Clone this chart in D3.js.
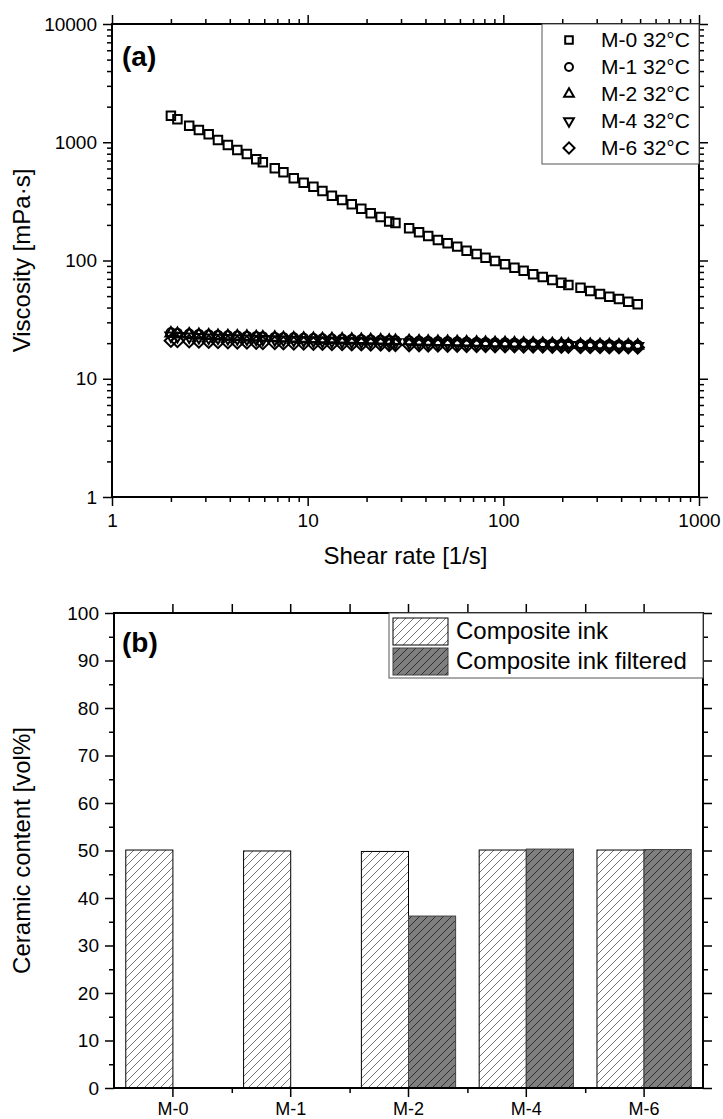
<!DOCTYPE html>
<html>
<head>
<meta charset="utf-8">
<script src="https://cdn.jsdelivr.net/npm/d3@7"></script>
<style>
  body { margin: 0; background: #fff; }
  svg { display: block; font-family: Arial, "Liberation Sans", sans-serif; }
</style>
</head>
<body>
<svg id="chart" width="723" height="1119"></svg>
<script>
// ---- (a) viscosity vs shear rate at 32 °C ----
const shearRate = [2.0, 2.16, 2.48, 2.78, 3.12, 3.48, 3.91, 4.37, 4.89, 5.46,
  5.9, 6.79, 7.52, 8.49, 9.54, 10.7, 11.9, 13.3, 15.0, 16.8,
  18.8, 21.0, 23.6, 26.1, 28.1, 33.0, 37.1, 41.3, 46.3, 51.9,
  58.1, 64.9, 73.0, 81.1, 90.7, 102, 114, 127, 142, 159,
  178, 198, 215, 248, 278, 312, 348, 390, 435, 486];

const viscM0 = [1677, 1564, 1380, 1270, 1167, 1045, 948, 860, 795, 717,
  677, 602, 557, 496, 455, 421, 387, 353, 325, 299,
  274, 251, 233, 214, 208, 187, 173, 161, 149, 140,
  131, 121, 113.5, 105.6, 99.0, 92.9, 86.9, 82.0, 76.4, 72.5,
  68.4, 64.9, 62.1, 58.9, 55.2, 52.1, 49.4, 47.3, 44.8, 42.6];

const viscM1 = [24.6, 24.3, 24.0, 23.8, 23.6, 23.4, 23.2, 23.1, 22.9, 22.8,
  22.7, 22.5, 22.4, 22.3, 22.1, 22.0, 21.9, 21.8, 21.7, 21.6,
  21.5, 21.4, 21.3, 21.2, 21.1, 21.0, 20.9, 20.8, 20.7, 20.7,
  20.6, 20.5, 20.4, 20.3, 20.2, 20.2, 20.1, 20.0, 19.9, 19.9,
  19.8, 19.7, 19.7, 19.6, 19.6, 19.5, 19.5, 19.4, 19.4, 19.3];

const viscM2 = [24.2, 24.0, 23.7, 23.5, 23.3, 23.1, 23.0, 22.8, 22.7, 22.5,
  22.4, 22.3, 22.1, 22.0, 21.9, 21.8, 21.7, 21.6, 21.5, 21.4,
  21.3, 21.2, 21.1, 21.0, 20.9, 20.8, 20.7, 20.6, 20.5, 20.5,
  20.4, 20.3, 20.2, 20.1, 20.0, 20.0, 19.9, 19.8, 19.8, 19.7,
  19.6, 19.6, 19.5, 19.4, 19.4, 19.3, 19.3, 19.2, 19.2, 19.1];

const viscM4 = [23.1, 22.9, 22.7, 22.5, 22.3, 22.2, 22.0, 21.9, 21.8, 21.7,
  21.6, 21.5, 21.4, 21.3, 21.2, 21.1, 21.0, 20.9, 20.8, 20.7,
  20.7, 20.6, 20.5, 20.4, 20.3, 20.3, 20.2, 20.1, 20.0, 20.0,
  19.9, 19.8, 19.8, 19.7, 19.6, 19.6, 19.5, 19.5, 19.4, 19.4,
  19.3, 19.3, 19.2, 19.2, 19.1, 19.1, 19.0, 19.0, 18.9, 18.9];

const viscM6 = [21.0, 20.9, 20.8, 20.7, 20.6, 20.5, 20.4, 20.3, 20.3, 20.2,
  20.1, 20.1, 20.0, 19.9, 19.9, 19.8, 19.8, 19.7, 19.7, 19.6,
  19.6, 19.5, 19.5, 19.4, 19.4, 19.3, 19.3, 19.2, 19.2, 19.1,
  19.1, 19.0, 19.0, 19.0, 18.9, 18.9, 18.9, 18.8, 18.8, 18.8,
  18.7, 18.7, 18.7, 18.6, 18.6, 18.6, 18.5, 18.5, 18.5, 18.4];

const seriesLabels = ["M-0 32°C", "M-1 32°C", "M-2 32°C", "M-4 32°C", "M-6 32°C"];
const rateTicks = [1, 10, 100, 1000];
const viscTicks = [1, 10, 100, 1000, 10000];

// ---- (b) ceramic content ----
const samples = ["M-0", "M-1", "M-2", "M-4", "M-6"];
const compositeInk = [50.1, 49.9, 49.8, 50.1, 50.1];
const compositeInkFiltered = [null, null, 36.2, 50.3, 50.2];
const barLabels = ["Composite ink", "Composite ink filtered"];
const contentTicks = [0, 10, 20, 30, 40, 50, 60, 70, 80, 90, 100];

const svg = d3.select("#chart");

// hatch fills for the bars
const defs = svg.append("defs");
function hatch(id, bg, line) {
  const p = defs.append("pattern").attr("id", id)
    .attr("patternUnits", "userSpaceOnUse").attr("width", 8).attr("height", 8);
  p.append("rect").attr("width", 8).attr("height", 8).attr("fill", bg);
  p.append("path").attr("d", "M-2,2 L2,-2 M0,8 L8,0 M6,10 L10,6")
    .attr("stroke", line).attr("stroke-width", 0.8).attr("fill", "none");
}
hatch("hatchLight", "#ffffff", "#555");
hatch("hatchDark", "#7f7f7f", "#1a1a1a");

// log minor tick values for a domain [lo, hi]
function logMinors(lo, hi) {
  const out = [];
  for (let d = lo; d < hi; d *= 10) for (let k = 2; k <= 9; k++) out.push(d * k);
  return out;
}

function styleAxis(g) {
  g.select(".domain").remove();
  g.selectAll(".tick line").attr("stroke", "#000").attr("stroke-width", 1.5);
  g.selectAll(".tick text").attr("fill", "#000");
}

// ================= panel (a) =================
const A = { l: 112, r: 699, t: 24, b: 497 };
const xA = d3.scaleLog().domain([1, 1000]).range([A.l, A.r]);
const yA = d3.scaleLog().domain([1, 10000]).range([A.b, A.t]);
const gA = svg.append("g");

const tickFont = "19px";
// bottom
gA.append("g").attr("transform", `translate(0,${A.b})`)
  .call(d3.axisBottom(xA).tickValues(logMinors(1, 1000)).tickSize(5).tickFormat(""))
  .call(styleAxis);
gA.append("g").attr("transform", `translate(0,${A.b})`)
  .call(d3.axisBottom(xA).tickValues(rateTicks).tickSize(9).tickPadding(8).tickFormat(d3.format("d")))
  .call(styleAxis).call(g => g.selectAll("text").style("font-size", tickFont));
// top
gA.append("g").attr("transform", `translate(0,${A.t})`)
  .call(d3.axisTop(xA).tickValues(logMinors(1, 1000)).tickSize(5).tickFormat(""))
  .call(styleAxis);
gA.append("g").attr("transform", `translate(0,${A.t})`)
  .call(d3.axisTop(xA).tickValues(rateTicks).tickSize(9).tickFormat(""))
  .call(styleAxis);
// left
gA.append("g").attr("transform", `translate(${A.l},0)`)
  .call(d3.axisLeft(yA).tickValues(logMinors(1, 10000)).tickSize(5).tickFormat(""))
  .call(styleAxis);
gA.append("g").attr("transform", `translate(${A.l},0)`)
  .call(d3.axisLeft(yA).tickValues(viscTicks).tickSize(9).tickPadding(6).tickFormat(d3.format("d")))
  .call(styleAxis).call(g => g.selectAll("text").style("font-size", tickFont));
// right
gA.append("g").attr("transform", `translate(${A.r},0)`)
  .call(d3.axisRight(yA).tickValues(logMinors(1, 10000)).tickSize(5).tickFormat(""))
  .call(styleAxis);
gA.append("g").attr("transform", `translate(${A.r},0)`)
  .call(d3.axisRight(yA).tickValues(viscTicks).tickSize(9).tickFormat(""))
  .call(styleAxis);

// markers
const symbols = [
  { type: d3.symbolSquare, size: 72, rot: 0 },
  { type: d3.symbolCircle, size: 62, rot: 0 },
  { type: d3.symbolTriangle, size: 52, rot: 0 },
  { type: d3.symbolTriangle, size: 52, rot: 180 },
  { type: d3.symbolSquare, size: 78, rot: 45 }
];
const viscSeries = [viscM0, viscM1, viscM2, viscM4, viscM6];
viscSeries.forEach((vals, i) => {
  const s = symbols[i];
  gA.append("g").selectAll("path").data(vals).join("path")
    .attr("d", d3.symbol(s.type, s.size))
    .attr("transform", (v, j) => `translate(${xA(shearRate[j])},${yA(v)}) rotate(${s.rot})`)
    .attr("fill", "none").attr("stroke", "#000").attr("stroke-width", 2);
});

// frame
gA.append("rect").attr("x", A.l).attr("y", A.t)
  .attr("width", A.r - A.l).attr("height", A.b - A.t)
  .attr("fill", "none").attr("stroke", "#000").attr("stroke-width", 2);

// legend
const legA = gA.append("g");
legA.append("rect").attr("x", 542).attr("y", A.t).attr("width", A.r - 542).attr("height", 140)
  .attr("fill", "#fff").attr("stroke", "#555").attr("stroke-width", 1);
seriesLabels.forEach((lab, i) => {
  const cy = 40 + i * 27;
  const s = symbols[i];
  legA.append("path").attr("d", d3.symbol(s.type, s.size * 0.8))
    .attr("transform", `translate(569,${cy}) rotate(${s.rot})`)
    .attr("fill", "none").attr("stroke", "#000").attr("stroke-width", 2);
  legA.append("text").attr("x", 601).attr("y", cy + 7).style("font-size", "21px").text(lab);
});

gA.append("text").attr("x", 122).attr("y", 66).style("font-size", "28px").style("font-weight", "bold").text("(a)");
gA.append("text").attr("x", (A.l + A.r) / 2).attr("y", 564).attr("text-anchor", "middle")
  .style("font-size", "24px").text("Shear rate [1/s]");
gA.append("text").attr("transform", `translate(30,${(A.t + A.b) / 2}) rotate(-90)`)
  .attr("text-anchor", "middle").style("font-size", "24px").text("Viscosity [mPa·s]");

// ================= panel (b) =================
const B = { l: 114, r: 703, t: 613, b: 1088 };
const xB = d3.scaleBand().domain(samples).range([B.l, B.r]).paddingInner(0).paddingOuter(0);
const xSub = d3.scaleBand().domain(barLabels).range([0.1 * xB.bandwidth(), 0.9 * xB.bandwidth()]).padding(0);
const yB = d3.scaleLinear().domain([0, 100]).range([B.b, B.t]);
const gB = svg.append("g");

const bandEdges = samples.slice(1).map(s => xB(s));
// bottom: majors at category centres, minors at band boundaries
gB.append("g").attr("transform", `translate(0,${B.b})`)
  .call(d3.axisBottom(xB).tickSize(9).tickPadding(5))
  .call(styleAxis).call(g => g.selectAll("text").style("font-size", "18px"));
const edgeScale = d3.scaleLinear().domain([B.l, B.r]).range([B.l, B.r]);
gB.append("g").attr("transform", `translate(0,${B.b})`)
  .call(d3.axisBottom(edgeScale).tickValues(bandEdges).tickSize(5).tickFormat(""))
  .call(styleAxis);
// top
gB.append("g").attr("transform", `translate(0,${B.t})`)
  .call(d3.axisTop(xB).tickSize(9).tickFormat(""))
  .call(styleAxis);
gB.append("g").attr("transform", `translate(0,${B.t})`)
  .call(d3.axisTop(edgeScale).tickValues(bandEdges).tickSize(9).tickFormat(""))
  .call(styleAxis);
// left / right
const contentMinors = contentTicks.slice(1).map(v => v - 5);
gB.append("g").attr("transform", `translate(${B.l},0)`)
  .call(d3.axisLeft(yB).tickValues(contentMinors).tickSize(5).tickFormat(""))
  .call(styleAxis);
gB.append("g").attr("transform", `translate(${B.l},0)`)
  .call(d3.axisLeft(yB).tickValues(contentTicks).tickSize(9).tickPadding(6))
  .call(styleAxis).call(g => g.selectAll("text").style("font-size", tickFont));
gB.append("g").attr("transform", `translate(${B.r},0)`)
  .call(d3.axisRight(yB).tickValues(contentMinors).tickSize(5).tickFormat(""))
  .call(styleAxis);
gB.append("g").attr("transform", `translate(${B.r},0)`)
  .call(d3.axisRight(yB).tickValues(contentTicks).tickSize(9).tickFormat(""))
  .call(styleAxis);

// bars
const barData = [];
samples.forEach((s, i) => {
  barData.push({ sample: s, series: barLabels[0], value: compositeInk[i] });
  if (compositeInkFiltered[i] != null)
    barData.push({ sample: s, series: barLabels[1], value: compositeInkFiltered[i] });
});
gB.append("g").selectAll("rect").data(barData).join("rect")
  .attr("x", d => xB(d.sample) + xSub(d.series))
  .attr("y", d => yB(d.value))
  .attr("width", xSub.bandwidth())
  .attr("height", d => yB(0) - yB(d.value))
  .attr("fill", d => d.series === barLabels[0] ? "url(#hatchLight)" : "url(#hatchDark)")
  .attr("stroke", d => d.series === barLabels[0] ? "#000" : "#404040")
  .attr("stroke-width", 1);

// frame
gB.append("rect").attr("x", B.l).attr("y", B.t)
  .attr("width", B.r - B.l).attr("height", B.b - B.t)
  .attr("fill", "none").attr("stroke", "#000").attr("stroke-width", 2);

// legend
const legB = gB.append("g");
legB.append("rect").attr("x", 389).attr("y", B.t).attr("width", B.r - 389).attr("height", 65)
  .attr("fill", "#fff").attr("stroke", "#555").attr("stroke-width", 1);
barLabels.forEach((lab, i) => {
  const y0 = 618 + i * 30;
  legB.append("rect").attr("x", 393).attr("y", y0).attr("width", 55).attr("height", 27)
    .attr("fill", i === 0 ? "url(#hatchLight)" : "url(#hatchDark)")
    .attr("stroke", i === 0 ? "#000" : "#404040").attr("stroke-width", 1);
  legB.append("text").attr("x", 456).attr("y", y0 + 21).style("font-size", "24px").text(lab);
});

gB.append("text").attr("x", 122).attr("y", 652).style("font-size", "28px").style("font-weight", "bold").text("(b)");
gB.append("text").attr("transform", `translate(30,${(B.t + B.b) / 2}) rotate(-90)`)
  .attr("text-anchor", "middle").style("font-size", "24px").text("Ceramic content [vol%]");
</script>
</body>
</html>
